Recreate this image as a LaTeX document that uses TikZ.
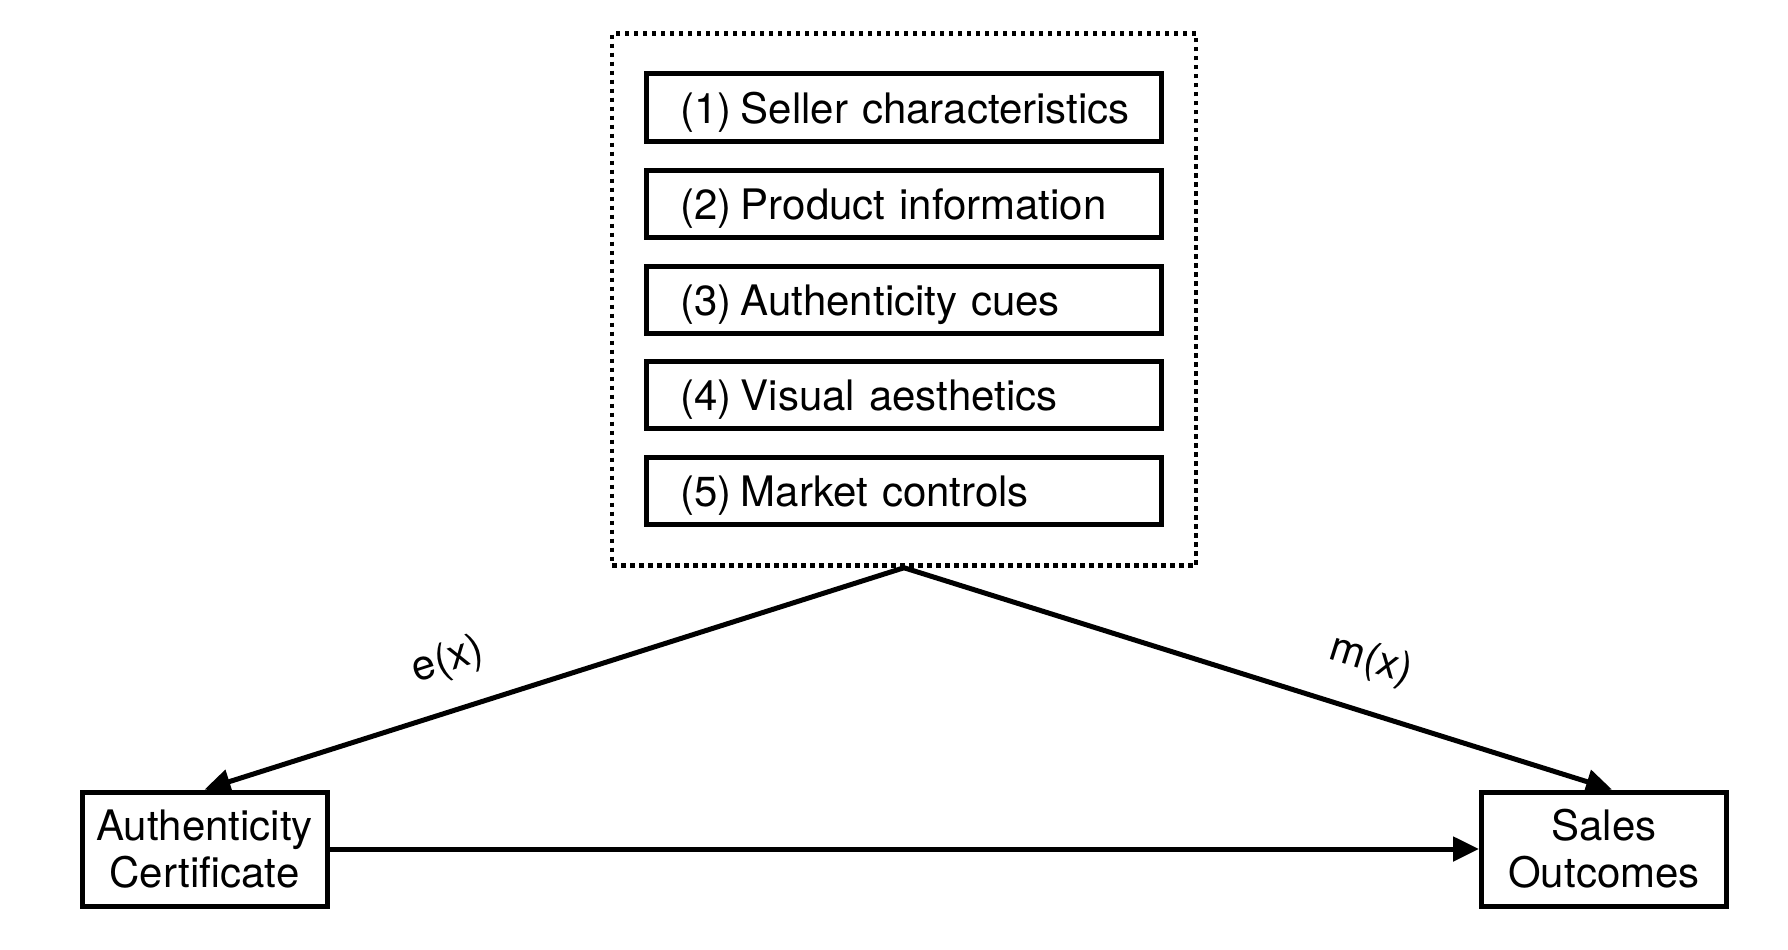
\documentclass[tikz,border=0pt]{standalone}
\usepackage{fontspec}
\setmainfont{TeX Gyre Heros}
\usetikzlibrary{arrows.meta}
\newcommand\diagfont{\fontsize{42}{47}\selectfont\spaceskip=11.5pt\relax}
\newcommand\itemno[1]{(#1)\kern-5pt\ }
\begin{document}
\begin{tikzpicture}[x=1pt,y=-1pt,
  every node/.style={font=\diagfont},
  ibox/.style={draw, line width=5pt, minimum height=67pt, text width=447pt, inner xsep=34pt, inner ysep=0pt, text height=31pt, text depth=0pt, align=left},
  obox/.style={draw, line width=5pt, minimum width=245pt, minimum height=114pt, inner sep=0pt, align=center},
  grpbox/.style={draw, line width=4.5pt, dash pattern=on 4.5pt off 4.5pt, minimum width=584pt, minimum height=532pt, inner sep=0pt},
  conn/.style={line width=5pt, -{Triangle[length=26pt,width=24pt]}},
  lbl/.style={inner sep=0pt}
]
\useasboundingbox (0,0) rectangle (1788,950);
\node[grpbox] (grp) at (904,299.5) {};
\node[ibox] (s1) at (904,107.5) {\mbox{\itemno{1}Seller characteristics}};
\node[ibox] (s2) at (904,203.5) {\mbox{\itemno{2}Product information}};
\node[ibox] (s3) at (904,299.5) {\mbox{\itemno{3}Authenticity cues}};
\node[ibox] (s4) at (904,395) {\mbox{\itemno{4}Visual aesthetics}};
\node[ibox] (s5) at (904,491) {\mbox{\itemno{5}Market controls}};
\node[obox] (ac) at (204.5,849) {Authenticity\\Certificate};
\node[obox] (so) at (1604,849) {Sales\\Outcomes};
\draw[conn] (grp.south) -- (ac.north);
\draw[conn] (grp.south) -- ([xshift=8pt]so.north);
\draw[conn] (ac.east) -- (so.west);
\node[lbl, rotate=17.7] (ex) at (448,661) {e(x)};
\node[lbl, rotate=-17.5] (mx) at (1371,661) {m(x)};
\end{tikzpicture}
\end{document}
